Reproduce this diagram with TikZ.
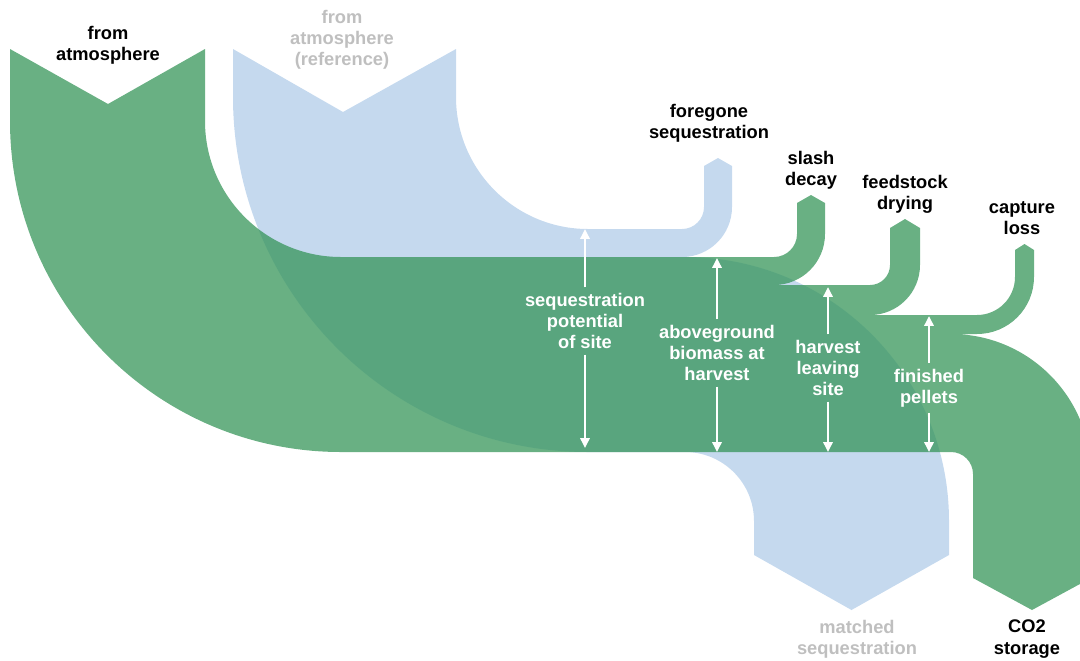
\documentclass[tikz,border=0pt]{standalone}
\usepackage{fontspec}
\setmainfont{Liberation Sans}
\usetikzlibrary{arrows.meta}
\definecolor{flowgreen}{RGB}{52,148,88}
\definecolor{flowblue}{RGB}{197,217,238}
\definecolor{refgray}{RGB}{191,191,191}
\begin{document}
\begin{tikzpicture}[x=0.025cm,y=-0.025cm,
  lbl/.style={font=\fontsize{13}{15}\selectfont\bfseries, align=center, inner sep=0pt},
  inlbl/.style={lbl, text=white, inner sep=4pt},
  flowarrow/.style={white, line width=2pt, -{Triangle[length=7pt,width=6.5pt]}}]
\useasboundingbox (0,0) rectangle (1080,660);
\clip (0,0) rectangle (1080,660);

%reference flow
\fill [flowblue] (233,49) -- (343,112) -- (456,49) -- (456,97)
  arc[start angle=180,end angle=90,radius=132] -- (682,229)
  arc[start angle=90,end angle=0,radius=22] -- (704,166) -- (718,158) -- (732,166) -- (732,207)
  arc[start angle=0,end angle=90,radius=50] -- (685,257)
  arc[start angle=-90,end angle=0,radius=264] -- (949,555) -- (851.5,610) -- (754,555) -- (754,521)
  arc[start angle=0,end angle=-90,radius=69] -- (588,452)
  arc[start angle=90,end angle=180,radius=355] -- cycle;

%pellet flow
\fill [flowgreen, fill opacity=0.74] (10,49) -- (108,104) -- (205,49) -- (205,121)
  arc[start angle=180,end angle=90,radius=136] -- (774,257)
  arc[start angle=90,end angle=0,radius=23] -- (797,203) -- (811,195) -- (825,203) -- (825,234)
  arc[start angle=0,end angle=90,radius=51] -- (870,285)
  arc[start angle=90,end angle=0,radius=20] -- (890,228) -- (905,219) -- (920,228) -- (920,265)
  arc[start angle=0,end angle=90,radius=50] -- (977,315)
  arc[start angle=90,end angle=0,radius=38] -- (1015,250) -- (1024.5,244) -- (1034,250) -- (1034,277)
  arc[start angle=0,end angle=90,radius=57] -- (951,334)
  arc[start angle=-90,end angle=0,radius=140] -- (1091,578) -- (1032,610) -- (973,578) -- (973,474)
  arc[start angle=0,end angle=-90,radius=22] -- (341,452)
  arc[start angle=90,end angle=180,radius=331] -- cycle;

%end labels
\node [lbl] (atm) at (108,45) {from\\atmosphere};
\node [lbl, text=refgray] (atmref) at (342,40) {from\\atmosphere\\(reference)};
\node [lbl] (fore) at (709,123) {foregone\\sequestration};
\node [lbl] (slash) at (811,170) {slash\\decay};
\node [lbl] (feed) at (905,194) {feedstock\\drying};
\node [lbl] (capt) at (1022,218) {capture\\loss};
\node [lbl, text=refgray] (match) at (857,639) {matched\\sequestration};
\node [lbl] (stor) at (1027,639) {CO2\\storage};

%widths
\node [inlbl] (sp) at (585,321) {sequestration\\potential\\of site};
\coordinate (sptop) at (585,229);
\coordinate (spbot) at (585,448);
\draw [flowarrow] (sp.north) -- (sptop);
\draw [flowarrow] (sp.south) -- (spbot);

\node [inlbl] (ab) at (717,353) {aboveground\\biomass at\\harvest};
\coordinate (abtop) at (717,258);
\coordinate (abbot) at (717,452);
\draw [flowarrow] (ab.north) -- (abtop);
\draw [flowarrow] (ab.south) -- (abbot);

\node [inlbl] (hl) at (828,368) {harvest\\leaving\\site};
\coordinate (hltop) at (828,287);
\coordinate (hlbot) at (828,452);
\draw [flowarrow] (hl.north) -- (hltop);
\draw [flowarrow] (hl.south) -- (hlbot);

\node [inlbl] (fp) at (929,388) {finished\\pellets};
\coordinate (fptop) at (929,316);
\coordinate (fpbot) at (929,452);
\draw [flowarrow] (fp.north) -- (fptop);
\draw [flowarrow] (fp.south) -- (fpbot);
\end{tikzpicture}
\end{document}
